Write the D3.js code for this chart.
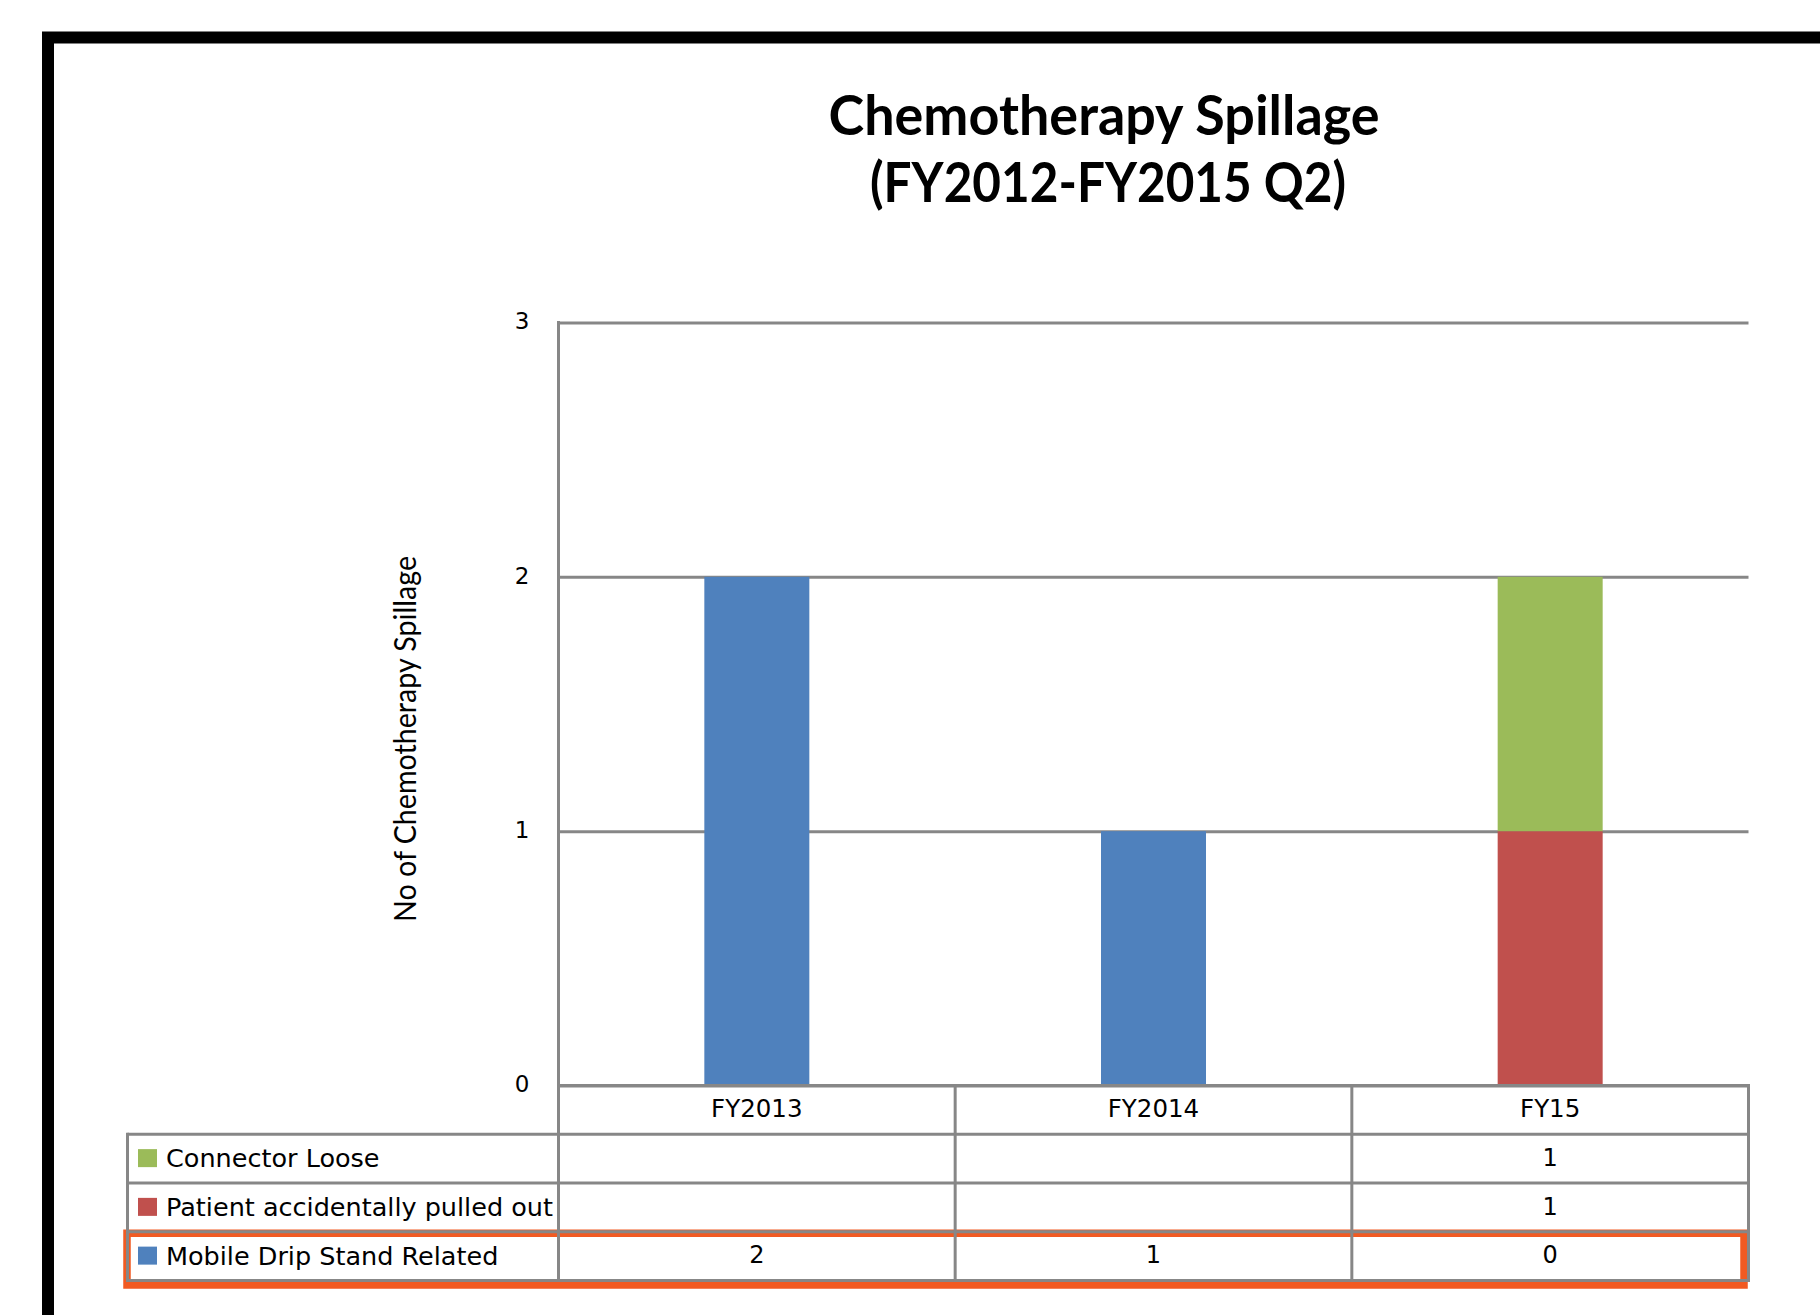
<!DOCTYPE html>
<html>
<head>
<meta charset="utf-8">
<script src="https://cdn.jsdelivr.net/npm/d3@7"></script>
<style>
  body { margin: 0; background: #fff; }
  svg { display: block; }
</style>
</head>
<body>
<div id="svgcontainer"></div>
<script>
(function() {

    // chart data
    var categories = ['FY2013', 'FY2014', 'FY15']
    var seriesNames = ['Mobile Drip Stand Related', 'Patient accidentally pulled out', 'Connector Loose']
    var mobileDripStand = [2, 1, 0]
    var patientPulledOut = [null, null, 1]
    var connectorLoose = [null, null, 1]
    var seriesColors = ['#4F81BD', '#C0504D', '#9BBB59']
    var yTicks = [0, 1, 2, 3]
    var titleLines = ['Chemotherapy Spillage', '(FY2012-FY2015 Q2)']
    var yTitle = 'No of Chemotherapy  Spillage'

    var width = 1820, height = 1315
    var gridColor = '#878787'
    var tableFont = '"DejaVu Sans", Verdana, sans-serif'

    var svg = d3.select('#svgcontainer').append('svg')
        .attr('width', width)
        .attr('height', height)

    // black frame (only top & left edges are visible)
    svg.append('path')
        .attr('d', 'M48,' + height + 'V37.5H' + width)
        .attr('fill', 'none')
        .attr('stroke', '#000')
        .attr('stroke-width', 12)

    // title
    var titleWidths = [551, 476]
    svg.append('g').selectAll('text')
        .data(titleLines)
        .enter().append('text')
        .attr('x', (d, i) => i == 0 ? 1104 : 1108)
        .attr('y', (d, i) => i == 0 ? 135 : 202)
        .attr('text-anchor', 'middle')
        .attr('font-family', 'Lato, "Open Sans", sans-serif')
        .attr('font-weight', 'bold')
        .attr('font-size', 55)
        .attr('textLength', (d, i) => titleWidths[i])
        .attr('lengthAdjust', 'spacingAndGlyphs')
        .attr('fill', '#000')
        .text(d => d)

    var plotLeft = 558.5, plotRight = 1748.5
    var plotTop = 322.5, plotBottom = 1085.5

    var x = d3.scaleBand()
        .domain(categories)
        .range([plotLeft, plotRight])

    var y = d3.scaleLinear()
        .domain([0, 3])
        .range([plotBottom, plotTop])

    // gridlines
    svg.append('g')
        .attr('transform', 'translate(' + plotLeft + ',0)')
        .call(d3.axisLeft(y).tickValues(yTicks).tickSize(-(plotRight - plotLeft)).tickFormat(''))
        .call(g => g.select('.domain').remove())
        .call(g => g.selectAll('line').attr('stroke', gridColor).attr('stroke-width', 3))

    // tick labels
    svg.append('g')
        .attr('transform', 'translate(' + plotLeft + ',0)')
        .call(d3.axisLeft(y).tickValues(yTicks).tickSize(0).tickPadding(29).tickFormat(d3.format('d')))
        .call(g => g.select('.domain').remove())
        .call(g => g.selectAll('text')
            .attr('font-family', tableFont)
            .attr('font-size', 23)
            .attr('fill', '#000')
            .attr('dy', '0.28em'))

    // y axis title
    svg.append('text')
        .attr('transform', 'translate(416,739) rotate(-90)')
        .attr('text-anchor', 'middle')
        .attr('font-family', 'Lato, "Open Sans", sans-serif')
        .attr('font-size', 31)
        .attr('textLength', 366)
        .attr('lengthAdjust', 'spacingAndGlyphs')
        .attr('fill', '#000')
        .text(yTitle)

    // stacked bars
    var seriesValues = [mobileDripStand, patientPulledOut, connectorLoose]
    var rows = categories.map(function(c, i) {
        var r = {category: c}
        seriesNames.forEach(function(s, j) { r[s] = seriesValues[j][i] || 0 })
        return r
    })
    var stacked = d3.stack().keys(seriesNames)(rows)

    var barWidth = 105
    svg.append('g').selectAll('g')
        .data(stacked)
        .enter().append('g')
        .attr('fill', (d, i) => seriesColors[i])
        .selectAll('rect')
        .data(d => d)
        .enter().append('rect')
        .attr('x', d => x(d.data.category) + (x.bandwidth() - barWidth) / 2)
        .attr('y', d => y(d[1]))
        .attr('width', barWidth)
        .attr('height', d => y(d[0]) - y(d[1]))

    // data table below the chart
    var rowH = 48.75
    var tableLeft = 127.5
    var headerTop = plotBottom
    var bodyTop = headerTop + rowH
    var tableRows = seriesNames.slice().reverse()
    var tableBottom = bodyTop + rowH * tableRows.length
    var table = svg.append('g')

    // highlight box round the last row
    table.append('rect')
        .attr('x', 127)
        .attr('y', bodyTop + rowH * 2 + 1.5)
        .attr('width', 1617)
        .attr('height', rowH + 3)
        .attr('fill', 'none')
        .attr('stroke', '#F15A22')
        .attr('stroke-width', 7.5)

    var tline = (x1, y1, x2, y2) => table.append('line')
        .attr('x1', x1).attr('y1', y1).attr('x2', x2).attr('y2', y2)
        .attr('stroke', gridColor).attr('stroke-width', 3)

    // horizontal lines
    for (var k = 0; k <= tableRows.length; k++) {
        tline(tableLeft, bodyTop + rowH * k, plotRight + 1.5, bodyTop + rowH * k)
    }
    tline(plotLeft, headerTop, plotRight + 1.5, headerTop)
    // vertical lines
    tline(plotLeft, plotTop - 1.5, plotLeft, tableBottom + 1.5)
    tline(tableLeft, bodyTop - 1.5, tableLeft, tableBottom + 1.5)
    categories.forEach(function(c) {
        tline(x(c) + x.bandwidth(), headerTop, x(c) + x.bandwidth(), tableBottom + 1.5)
    })

    // header labels
    table.selectAll('.hdr')
        .data(categories)
        .enter().append('text')
        .attr('class', 'hdr')
        .attr('x', d => x(d) + x.bandwidth() / 2)
        .attr('y', headerTop + rowH / 2)
        .attr('dy', '0.3em')
        .attr('text-anchor', 'middle')
        .attr('font-family', tableFont)
        .attr('font-size', 24.5)
        .attr('fill', '#000')
        .text(d => d)

    // legend rows
    var legendRow = table.selectAll('.lrow')
        .data(tableRows)
        .enter().append('g')
        .attr('class', 'lrow')
        .attr('transform', (d, i) => 'translate(0,' + (bodyTop + rowH * i) + ')')

    legendRow.append('rect')
        .attr('x', 138)
        .attr('y', rowH / 2 - 9.5)
        .attr('width', 19)
        .attr('height', 18)
        .attr('fill', d => seriesColors[seriesNames.indexOf(d)])

    legendRow.append('text')
        .attr('x', 166)
        .attr('y', rowH / 2)
        .attr('dy', '0.33em')
        .attr('font-family', tableFont)
        .attr('font-size', 25.5)
        .attr('fill', '#000')
        .text(d => d)

    legendRow.selectAll('.val')
        .data(d => seriesValues[seriesNames.indexOf(d)].map((v, i) => ({v: v, c: categories[i]})))
        .enter().append('text')
        .attr('class', 'val')
        .attr('x', d => x(d.c) + x.bandwidth() / 2)
        .attr('y', rowH / 2)
        .attr('dy', '0.3em')
        .attr('text-anchor', 'middle')
        .attr('font-family', tableFont)
        .attr('font-size', 24)
        .attr('fill', '#000')
        .text(d => d.v == null ? '' : d.v)

})()
</script>
</body>
</html>
